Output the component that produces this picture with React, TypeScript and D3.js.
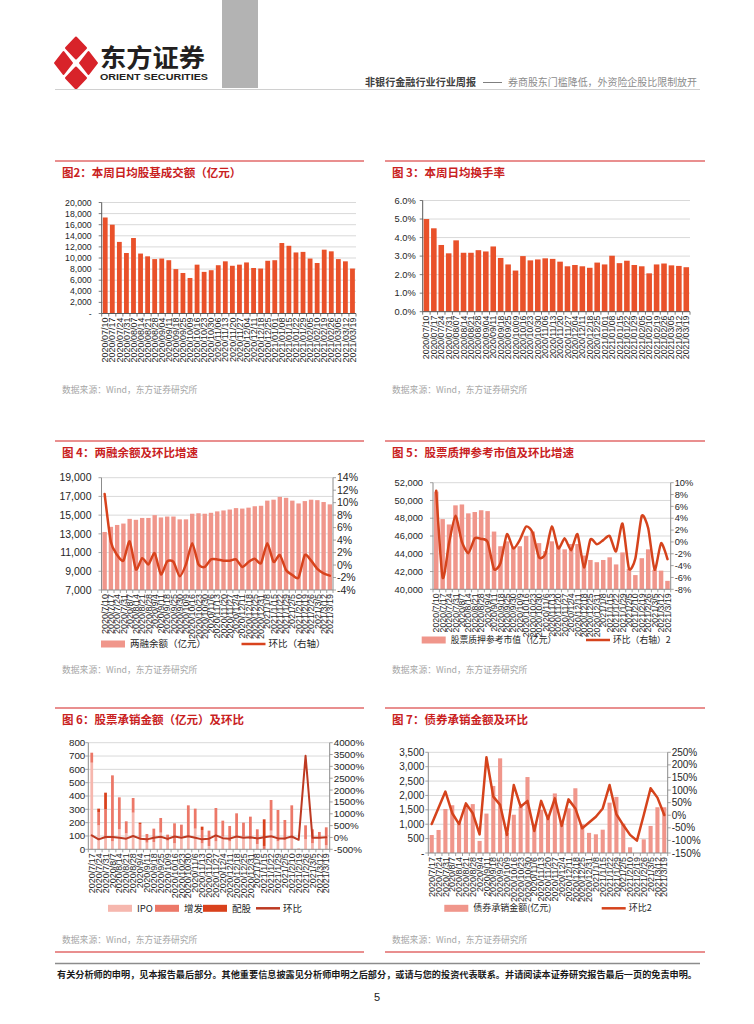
import React from 'react';
import * as d3 from 'd3';

const CN = '"Noto Sans CJK SC","Noto Sans",sans-serif';
const AR = '"Liberation Sans",Arial,sans-serif';
const TITLE_RED = '#c9211e';
const PANEL_LINE = '#e26a6a';
const GRID = '#d9d9d9';
const AXIS = '#8c8c8c';

// ---------- data ----------
const weeks36 = ['2020/07/10','2020/07/17','2020/07/24','2020/07/31','2020/08/07','2020/08/14','2020/08/21','2020/08/28','2020/09/04','2020/09/11','2020/09/18','2020/09/25','2020/10/09','2020/10/16','2020/10/23','2020/10/30','2020/11/06','2020/11/13','2020/11/20','2020/11/27','2020/12/04','2020/12/11','2020/12/18','2020/12/25','2021/01/01','2021/01/08','2021/01/15','2021/01/22','2021/01/29','2021/02/05','2021/02/10','2021/02/19','2021/02/26','2021/03/05','2021/03/12','2021/03/19'];
const dailyTurnover = [17300,16000,12900,10900,13600,10800,10300,9800,9900,9600,8000,7300,6400,8800,7500,7800,8700,9400,8600,8800,9200,8200,8100,9500,9600,12700,12200,11000,11100,9900,9100,11500,11200,9800,9400,8100];
const turnoverRate = [5.0,4.5,3.6,3.15,3.85,3.18,3.18,3.32,3.25,3.52,2.9,2.55,2.22,3.0,2.77,2.82,2.88,2.85,2.7,2.45,2.52,2.45,2.37,2.65,2.55,3.02,2.62,2.75,2.52,2.45,2.07,2.55,2.6,2.5,2.47,2.4];

const weeks37 = ['2020/7/10','2020/7/17','2020/7/24','2020/7/31','2020/8/7','2020/8/14','2020/8/21','2020/8/28','2020/9/4','2020/9/11','2020/9/18','2020/9/25','2020/9/30','2020/10/9','2020/10/16','2020/10/23','2020/10/30','2020/11/6','2020/11/13','2020/11/20','2020/11/27','2020/12/4','2020/12/11','2020/12/18','2020/12/25','2020/12/31','2021/1/8','2021/1/15','2021/1/22','2021/1/29','2021/2/5','2021/2/10','2021/2/19','2021/2/26','2021/3/5','2021/3/12','2021/3/19'];
const marginBalance = [13200,13750,13950,14100,14600,14500,14700,14700,15000,14750,14850,14850,14550,14550,15150,15200,15150,15250,15400,15500,15600,15750,15700,15800,15950,16000,16550,16650,16950,16850,16550,16250,16500,16650,16600,16400,16150];
const marginChange = [11.4,3.7,1.6,0.7,3.8,-0.7,1.1,0.1,1.9,-1.5,0.6,0.5,-1.8,0.1,3.5,0.1,-0.3,0.9,0.9,0.7,0.7,0.9,-0.3,0.5,1.0,0.3,3.5,0.5,1.6,-0.8,-1.6,-2.0,1.6,0.7,-0.6,-1.35,-1.7];
const pledgeValue = [51000,47900,47300,49450,49550,48550,48700,48900,48800,46500,44850,45400,44850,44850,46000,46500,45200,44300,45400,44900,44500,45100,45100,43800,43300,43050,43300,43600,42800,44150,42300,41600,43500,44500,42200,42100,40950];
const pledgeChange = [8.65,-6.0,-0.2,4.4,0.0,-1.9,0.6,0.5,0.0,-4.6,-3.6,1.3,-1.1,0.3,2.6,1.6,-2.6,-2.0,2.6,-1.1,0.6,-1.4,1.3,-4.3,0.4,-0.4,0.3,1.0,-1.6,3.1,-4.5,-2.8,4.4,2.3,-4.7,-0.2,-2.9];

const weeks35 = ['2020/7/17','2020/7/24','2020/7/31','2020/8/7','2020/8/14','2020/8/21','2020/8/28','2020/9/4','2020/9/11','2020/9/18','2020/9/25','2020/10/9','2020/10/16','2020/10/23','2020/10/30','2020/11/6','2020/11/13','2020/11/20','2020/11/27','2020/12/4','2020/12/11','2020/12/18','2020/12/25','2020/12/31','2021/1/8','2021/1/15','2021/1/22','2021/1/29','2021/2/5','2021/2/10','2021/2/19','2021/2/26','2021/3/5','2021/3/12','2021/3/19'];
const ipoAmount = [650,180,80,60,150,120,275,75,50,55,125,65,45,95,90,155,45,25,60,95,60,100,95,75,40,0,140,60,70,80,0,75,45,80,30];
const seoAmount = [75,100,220,495,240,90,110,115,65,100,110,45,150,90,240,150,100,115,250,120,115,170,105,170,110,25,230,235,150,250,5,105,105,50,135];
const rightsAmount = [0,25,125,0,0,0,0,10,0,0,0,0,0,0,0,0,25,0,0,0,0,0,0,0,0,200,0,0,0,0,0,0,0,0,0];
const equityChange = [90,-80,20,20,-10,-50,60,-50,-80,-10,30,-60,40,-10,50,-10,-80,-50,90,-30,-50,40,-10,10,-40,10,50,-40,-40,40,-100,3450,-15,-15,5];
const bondAmount = [625,800,1530,1660,1100,1670,1700,420,1370,2330,3290,700,1330,1610,2640,1000,1500,1250,2070,1100,1550,2250,1000,700,650,810,1750,1950,1020,200,0,475,940,1590,1590];
const bondChange = [-35,30,94,8,-35,47,8,-76,230,74,41,-78,120,34,57,-63,57,-15,67,-43,63,27,-52,-29,-6,27,120,4,-39,-78,-101,1,107,70,1];

// tick values
const ticksTurnover = [0,2000,4000,6000,8000,10000,12000,14000,16000,18000,20000];
const ticksRate = [0,1,2,3,4,5,6];
const ticksMargin = [7000,9000,11000,13000,15000,17000,19000];
const ticksMarginR = [-4,-2,0,2,4,6,8,10,12,14];
const ticksPledge = [40000,42000,44000,46000,48000,50000,52000];
const ticksPledgeR = [-8,-6,-4,-2,0,2,4,6,8,10];
const ticksEquity = [0,100,200,300,400,500,600,700,800];
const ticksEquityR = [-500,0,500,1000,1500,2000,2500,3000,3500,4000];
const ticksBond = [0,500,1000,1500,2000,2500,3000,3500];
const ticksBondR = [-150,-100,-50,0,50,100,150,200,250];

const comma = d3.format(',');

type Stack = { values: number[]; color: string };
type Cfg = {
  labels: string[];
  x0: number; x1: number; yT: number; yB: number;
  lDomain: [number, number]; lTicks: number[]; lFmt: (v: number) => string; lFont: number; lGap: number;
  rDomain?: [number, number]; rTicks?: number[]; rFmt?: (v: number) => string; rFont?: number;
  stacks: Stack[]; pad: number;
  line?: number[]; lineColor?: string; lineWidth?: number; smooth?: boolean;
  xFont: number; axisColor: string;
};

function Combo(c: Cfg) {
  const x = d3.scaleBand<string>().domain(c.labels).range([c.x0, c.x1]).paddingInner(c.pad).paddingOuter(c.pad / 2);
  const y = d3.scaleLinear().domain(c.lDomain).range([c.yB, c.yT]);
  const yr = c.rDomain ? d3.scaleLinear().domain(c.rDomain).range([c.yB, c.yT]) : null;
  const step = (c.x1 - c.x0) / c.labels.length;
  const els: React.ReactNode[] = [];
  c.lTicks.forEach((t, i) => {
    if (t !== c.lDomain[0]) els.push(<line key={'g' + i} x1={c.x0} x2={c.x1} y1={y(t)} y2={y(t)} stroke={GRID} strokeWidth={1} />);
  });
  c.labels.forEach((lab, i) => {
    let base = 0;
    c.stacks.forEach((s, j) => {
      const v = s.values[i];
      if (v > 0) {
        const lo = Math.max(base, c.lDomain[0]);
        const hi = base + v;
        els.push(<rect key={'b' + i + '_' + j} x={x(lab)} width={x.bandwidth()} y={y(hi)} height={y(lo) - y(hi)} fill={s.color} />);
      }
      base += v;
    });
  });
  els.push(<line key="xa" x1={c.x0} x2={c.x1} y1={c.yB} y2={c.yB} stroke={c.axisColor} strokeWidth={1} />);
  for (let i = 0; i <= c.labels.length; i++) {
    const xx = c.x0 + i * step;
    els.push(<line key={'xt' + i} x1={xx} x2={xx} y1={c.yB} y2={c.yB + 3} stroke={c.axisColor} strokeWidth={0.8} />);
  }
  els.push(<line key="ya" x1={c.x0} x2={c.x0} y1={c.yT} y2={c.yB} stroke={c.axisColor} strokeWidth={1} />);
  c.lTicks.forEach((t, i) => {
    els.push(<line key={'yt' + i} x1={c.x0 - 3} x2={c.x0} y1={y(t)} y2={y(t)} stroke={c.axisColor} strokeWidth={0.8} />);
    els.push(<text key={'yl' + i} x={c.x0 - c.lGap} y={y(t)} dy="0.35em" textAnchor="end" fontFamily={AR} fontSize={c.lFont} fill="#262626">{c.lFmt(t)}</text>);
  });
  if (yr && c.rTicks && c.rFmt) {
    els.push(<line key="ra" x1={c.x1} x2={c.x1} y1={c.yT} y2={c.yB} stroke={c.axisColor} strokeWidth={1} />);
    c.rTicks.forEach((t, i) => {
      els.push(<line key={'rt' + i} x1={c.x1} x2={c.x1 + 3} y1={yr(t)} y2={yr(t)} stroke={c.axisColor} strokeWidth={0.8} />);
      els.push(<text key={'rl' + i} x={c.x1 + 4} y={yr(t)} dy="0.35em" textAnchor="start" fontFamily={AR} fontSize={c.rFont} fill="#262626">{c.rFmt!(t)}</text>);
    });
  }
  if (yr && c.line) {
    const gen = d3.line<number>()
      .x((_, i) => (x(c.labels[i]) as number) + x.bandwidth() / 2)
      .y((v) => yr(v))
      .curve(c.smooth ? d3.curveCardinal.tension(0.35) : d3.curveLinear);
    els.push(<path key="ln" d={gen(c.line) || ''} fill="none" stroke={c.lineColor} strokeWidth={c.lineWidth} strokeLinejoin="round" strokeLinecap="round" />);
  }
  c.labels.forEach((lab, i) => {
    const cx = (x(lab) as number) + x.bandwidth() / 2;
    els.push(<text key={'xl' + i} transform={`translate(${cx},${c.yB + 4}) rotate(-90)`} dy="0.35em" textAnchor="end" fontFamily={AR} fontSize={c.xFont} fill="#262626">{lab}</text>);
  });
  return <g>{els}</g>;
}

function Panel({ x, y, w, title, srcY, bottom }: { x: number; y: number; w: number; title: string; srcY: number; bottom?: number }) {
  return (
    <g>
      <line x1={x} x2={x + w} y1={y} y2={y} stroke={PANEL_LINE} strokeWidth={1.5} />
      <text x={x + 7} y={y + 15.5} fontFamily={CN} fontWeight="bold" fontSize={11.5} fill={TITLE_RED}>{title}</text>
      <text x={x + 7} y={srcY + 3} fontFamily={CN} fontSize={8.8} fill="#a6a6a6">数据来源：Wind，东方证券研究所</text>
      {bottom ? <line x1={x} x2={x + w} y1={bottom} y2={bottom} stroke={PANEL_LINE} strokeWidth={1.5} /> : null}
    </g>
  );
}

function BarKey({ x, y, color, label, size = 9 }: { x: number; y: number; color: string; label: string; size?: number }) {
  return (
    <g>
      <rect x={x} y={y - 3.5} width={24} height={7} fill={color} />
      <text x={x + 29} y={y} dy="0.35em" fontFamily={CN} fontSize={size} fill="#262626">{label}</text>
    </g>
  );
}
function LineKey({ x, y, color, label, size = 9 }: { x: number; y: number; color: string; label: string; size?: number }) {
  return (
    <g>
      <line x1={x} x2={x + 24} y1={y} y2={y} stroke={color} strokeWidth={2.5} />
      <text x={x + 27} y={y} dy="0.35em" fontFamily={CN} fontSize={size} fill="#262626">{label}</text>
    </g>
  );
}

function Logo() {
  const red = '#d8232a';
  const dia = (cx: number, cy: number, rx: number, ry: number) => `M${cx},${cy - ry} L${cx + rx},${cy} L${cx},${cy + ry} L${cx - rx},${cy} Z`;
  return (
    <g>
      <path d={dia(76, 48, 10, 10.5)} fill={red} stroke={red} strokeWidth={2} strokeLinejoin="round" />
      <path d={dia(76, 78, 10, 10.5)} fill={red} stroke={red} strokeWidth={2} strokeLinejoin="round" />
      <path d={dia(63.5, 63, 8.5, 11)} fill={red} stroke={red} strokeWidth={2} strokeLinejoin="round" />
      <path d={dia(88.5, 63, 8.5, 11)} fill={red} stroke={red} strokeWidth={2} strokeLinejoin="round" />
      <text x={100} y={67} fontFamily={CN} fontWeight="bold" fontSize={25} fill="#231f20" textLength={105} lengthAdjust="spacingAndGlyphs">东方证券</text>
      <text x={100} y={80} fontFamily={AR} fontWeight="bold" fontSize={8.6} fill="#231f20" textLength={108} lengthAdjust="spacingAndGlyphs">ORIENT SECURITIES</text>
    </g>
  );
}

export default function App() {
  const pct1 = (v: number) => v.toFixed(1) + '%';
  const pct0 = (v: number) => v + '%';
  const dashZero = (v: number) => (v === 0 ? '-' : comma(v));
  return (
    <svg width={754} height={1024} style={{ position: 'absolute', left: 0, top: 0, background: '#fff' }}>
      <rect x={0} y={0} width={754} height={1024} fill="#fff" />
      <rect x={222} y={0} width={36} height={88} fill="#b3b3b3" />
      <Logo />
      <text x={365} y={86} fontFamily={CN} fontWeight="bold" fontSize={10.5} fill="#404040" textLength={111} lengthAdjust="spacingAndGlyphs">非银行金融行业行业周报</text>
      <line x1={483} x2={502} y1={82.5} y2={82.5} stroke="#7f7f7f" strokeWidth={1} />
      <text x={508} y={86} fontFamily={CN} fontSize={10.5} fill="#8c8c8c" textLength={189} lengthAdjust="spacingAndGlyphs">券商股东门槛降低，外资险企股比限制放开</text>
      <line x1={55} x2={700} y1={89.5} y2={89.5} stroke="#d0d0d0" strokeWidth={1} />

      <Panel x={55} y={161} w={309} title="图2：本周日均股基成交额（亿元）" srcY={390} />
      <Combo labels={weeks36} x0={101.7} x1={356} yT={202.5} yB={313.5}
        lDomain={[0, 20000]} lTicks={ticksTurnover} lFmt={dashZero} lFont={8.7} lGap={10}
        stacks={[{ values: dailyTurnover, color: '#e9512a' }]} pad={0.32}
        xFont={9} axisColor="#595959" />

      <Panel x={385} y={161} w={320} title="图 3：本周日均换手率" srcY={390} />
      <Combo labels={weeks36} x0={422.7} x1={690} yT={200.5} yB={311.7}
        lDomain={[0, 6]} lTicks={ticksRate} lFmt={pct1} lFont={9.3} lGap={7}
        stacks={[{ values: turnoverRate, color: '#e9512a' }]} pad={0.25}
        xFont={8.7} axisColor="#595959" />

      <Panel x={55} y={441} w={309} title="图 4：两融余额及环比增速" srcY={670} />
      <Combo labels={weeks37} x0={101.5} x1={333} yT={477.7} yB={590}
        lDomain={[7000, 19000]} lTicks={ticksMargin} lFmt={comma} lFont={10.5} lGap={10}
        rDomain={[-4, 14]} rTicks={ticksMarginR} rFmt={pct0} rFont={10.5}
        stacks={[{ values: marginBalance, color: '#f0968b' }]} pad={0.3}
        line={marginChange} lineColor="#d8431d" lineWidth={2.5} smooth
        xFont={9} axisColor={AXIS} />
      <BarKey x={101} y={644} color="#f0968b" label="两融余额（亿元）" size={9.5} />
      <LineKey x={241.5} y={644} color="#d8431d" label="环比（右轴）" size={9.5} />

      <Panel x={385} y={441} w={320} title="图 5：股票质押参考市值及环比增速" srcY={670} />
      <Combo labels={weeks37} x0={433} x1={670.7} yT={482.7} yB={589.3}
        lDomain={[40000, 52000]} lTicks={ticksPledge} lFmt={comma} lFont={9.3} lGap={10}
        rDomain={[-8, 10]} rTicks={ticksPledgeR} rFmt={pct0} rFont={9.3}
        stacks={[{ values: pledgeValue, color: '#f0968b' }]} pad={0.3}
        line={pledgeChange} lineColor="#d5431c" lineWidth={2.5} smooth
        xFont={8.8} axisColor={AXIS} />
      <BarKey x={421.7} y={640} color="#f0968b" label="股票质押参考市值（亿元）" size={8.8} />
      <LineKey x={586} y={640} color="#d5431c" label="环比（右轴）2" size={8.8} />

      <Panel x={55} y={708} w={309} title="图 6：股票承销金额（亿元）及环比" srcY={940} bottom={952} />
      <Combo labels={weeks35} x0={88.3} x1={329.7} yT={742.7} yB={849.3}
        lDomain={[0, 800]} lTicks={ticksEquity} lFmt={(v) => String(v)} lFont={9.8} lGap={3}
        rDomain={[-500, 4000]} rTicks={ticksEquityR} rFmt={pct0} rFont={9.8}
        stacks={[{ values: ipoAmount, color: '#f6b7ae' }, { values: seoAmount, color: '#ec7868' }, { values: rightsAmount, color: '#d9411c' }]} pad={0.6}
        line={equityChange} lineColor="#bd3a22" lineWidth={2} smooth={false}
        xFont={9} axisColor={AXIS} />
      <BarKey x={108} y={908.3} color="#f6b7ae" label="IPO" size={9.5} />
      <BarKey x={155} y={908.3} color="#ec7868" label="增发" size={9.5} />
      <BarKey x={203} y={908.3} color="#d9411c" label="配股" size={9.5} />
      <LineKey x={256} y={908.3} color="#bd3a22" label="环比" size={9.5} />

      <Panel x={385} y={708} w={320} title="图 7：债券承销金额及环比" srcY={940} bottom={952} />
      <Combo labels={weeks35} x0={428.3} x1={667.7} yT={752.3} yB={853}
        lDomain={[0, 3500]} lTicks={ticksBond} lFmt={dashZero} lFont={10} lGap={4}
        rDomain={[-150, 250]} rTicks={ticksBondR} rFmt={pct0} rFont={10}
        stacks={[{ values: bondAmount, color: '#f0968b' }]} pad={0.4}
        line={bondChange} lineColor="#d5431c" lineWidth={2.5} smooth={false}
        xFont={9} axisColor={AXIS} />
      <BarKey x={444.3} y={908.3} color="#f0968b" label="债券承销金额(亿元)" size={9} />
      <LineKey x={601.7} y={908.3} color="#d5431c" label="环比2" size={9} />

      <line x1={55} x2={700} y1={963.5} y2={963.5} stroke="#8c8c8c" strokeWidth={1.5} />
      <text x={57} y={978} fontFamily={CN} fontWeight="bold" fontSize={8.6} fill="#1a1a1a" textLength={640} lengthAdjust="spacingAndGlyphs">有关分析师的申明，见本报告最后部分。其他重要信息披露见分析师申明之后部分，或请与您的投资代表联系。并请阅读本证券研究报告最后一页的免责申明。</text>
      <text x={377} y={1001} textAnchor="middle" fontFamily={AR} fontSize={11} fill="#1a1a1a">5</text>
    </svg>
  );
}
